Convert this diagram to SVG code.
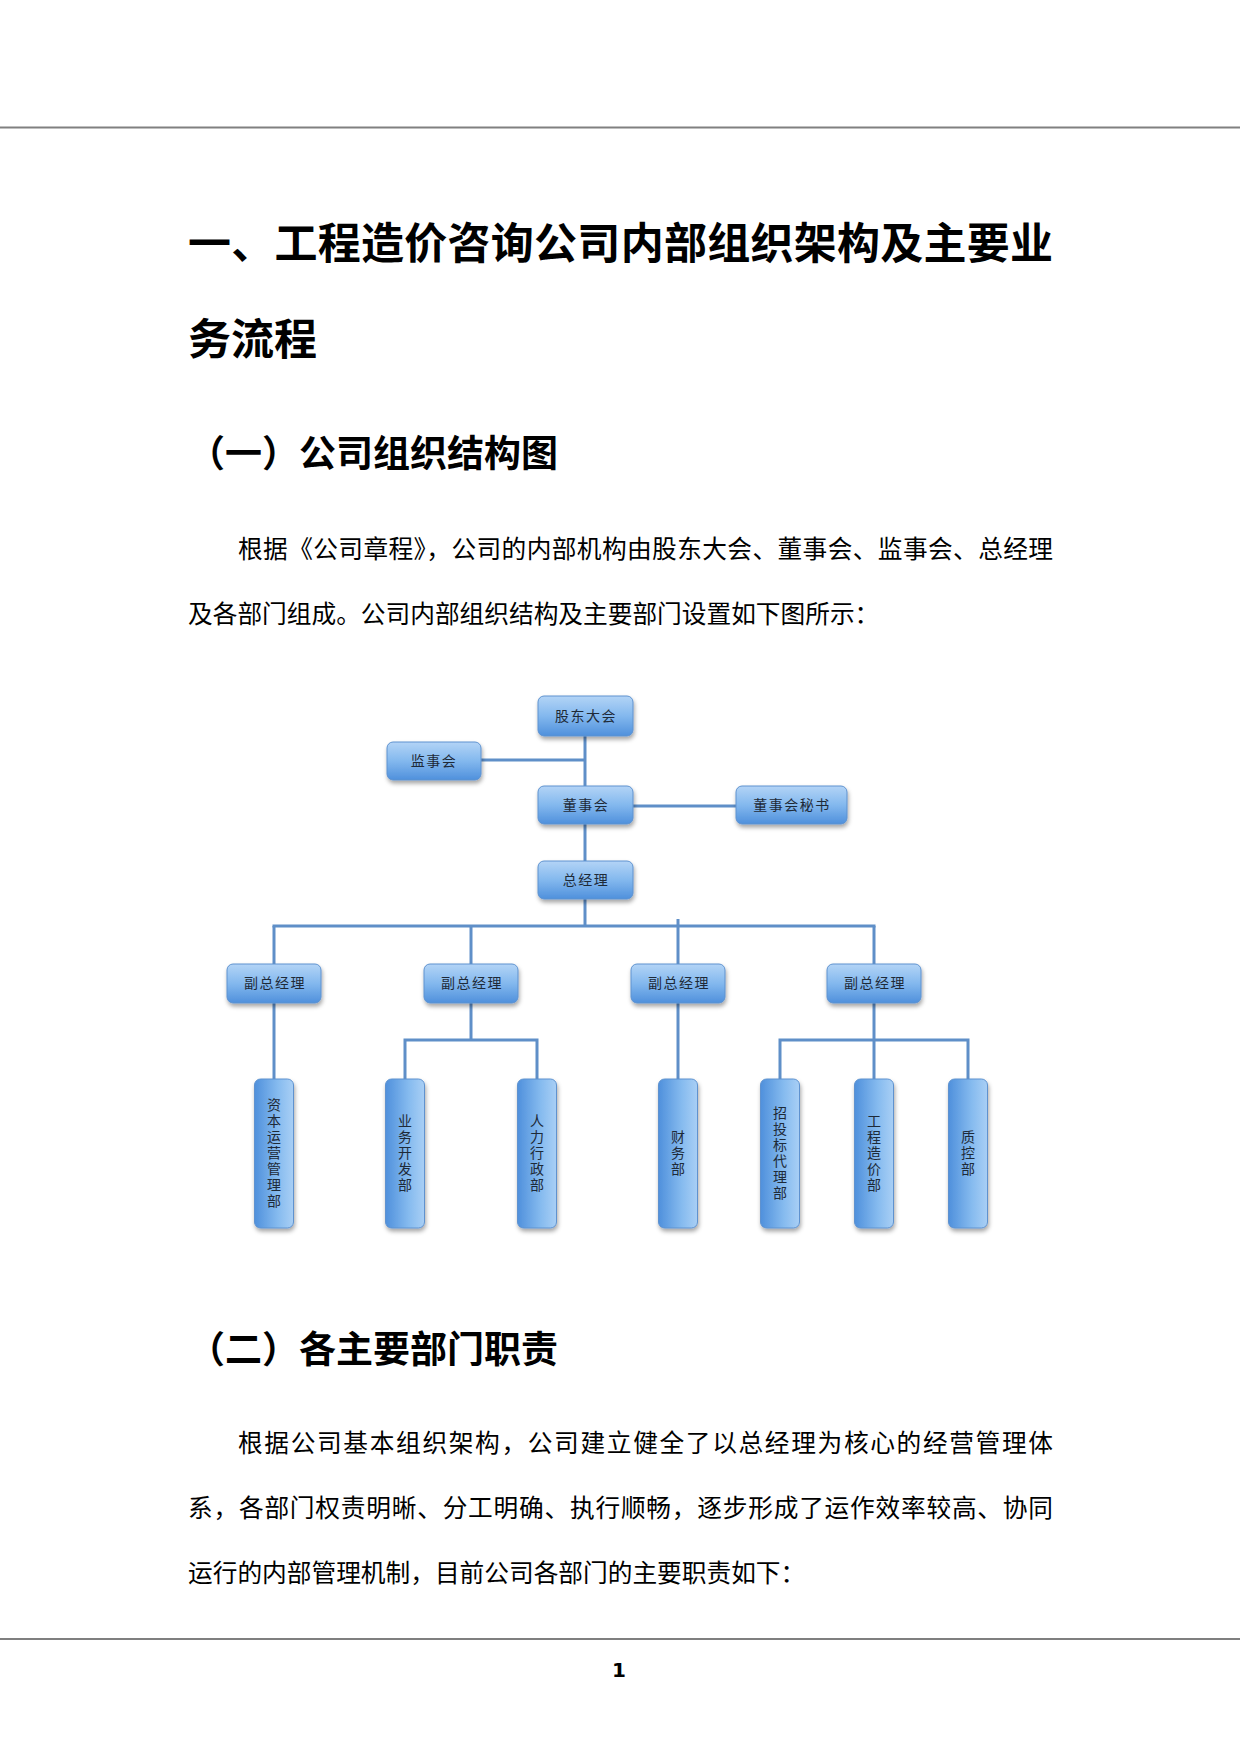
<svg xmlns="http://www.w3.org/2000/svg" width="1240" height="1753" viewBox="0 0 1240 1753">
  <defs>
    <linearGradient id="gh" x1="0" y1="0" x2="0" y2="1">
      <stop offset="0" stop-color="#b3d4f6"/>
      <stop offset="0.5" stop-color="#83b8ee"/>
      <stop offset="1" stop-color="#4f90dc"/>
    </linearGradient>
    <linearGradient id="gv" x1="0" y1="0" x2="1" y2="0">
      <stop offset="0" stop-color="#4f90dc"/>
      <stop offset="0.6" stop-color="#86bbef"/>
      <stop offset="1" stop-color="#a9cff5"/>
    </linearGradient>
    <filter id="sh" x="-20%" y="-20%" width="140%" height="150%">
      <feDropShadow dx="1" dy="3" stdDeviation="2" flood-color="#000" flood-opacity="0.35"/>
    </filter>
    <style>
      .box { fill: url(#gh); stroke: #5e92cf; stroke-width: 1; filter: url(#sh); }
      .vbox { fill: url(#gv); stroke: #5e92cf; stroke-width: 1; filter: url(#sh); }
      .lbl { font-family: "Noto Sans CJK SC", "Liberation Serif", serif; font-size: 14px; fill: #1e2a38; text-anchor: middle; letter-spacing: 1.5px; }
      .vlbl { font-family: "Noto Sans CJK SC", "Liberation Serif", serif; font-size: 14px; fill: #1e2a38; text-anchor: middle; writing-mode: vertical-rl; letter-spacing: 2px; }
      .conn { stroke: #5f8fc8; stroke-width: 3; fill: none; }
      .title { font-family: "Noto Sans CJK SC", sans-serif; font-weight: 700; font-size: 43px; fill: #000; }
      .h2 { font-family: "Noto Sans CJK SC", sans-serif; font-weight: 700; font-size: 37px; fill: #000; }
      .p { font-family: "Noto Sans CJK SC", sans-serif; font-size: 24.7px; fill: #000; }
    </style>
  </defs>
  <rect width="1240" height="1753" fill="#ffffff"/>
  <line x1="0" y1="127.5" x2="1240" y2="127.5" stroke="#808080" stroke-width="2"/>
  <line x1="0" y1="1639" x2="1240" y2="1639" stroke="#000" stroke-width="1.2"/>

  <text class="title" x="188" y="259" textLength="865" lengthAdjust="spacing">一、工程造价咨询公司内部组织架构及主要业</text>
  <text class="title" x="188" y="355">务流程</text>
  <text class="h2" x="188" y="467">（一）公司组织结构图</text>
  <text class="p" x="238" y="558" textLength="815" lengthAdjust="spacing">根据《公司章程》，公司的内部机构由股东大会、董事会、监事会、总经理</text>
  <text class="p" x="188" y="623">及各部门组成。公司内部组织结构及主要部门设置如下图所示：</text>

  <g id="connectors">
    <line class="conn" x1="585" y1="736" x2="585" y2="926"/>
    <line class="conn" x1="481" y1="760" x2="585" y2="760"/>
    <line class="conn" x1="632" y1="806" x2="736" y2="806"/>
    <line class="conn" x1="272.5" y1="926" x2="875.5" y2="926"/>
    <line class="conn" x1="274" y1="926" x2="274" y2="1079"/>
    <line class="conn" x1="471" y1="926" x2="471" y2="1040"/>
    <line class="conn" x1="678" y1="919" x2="678" y2="1079"/>
    <line class="conn" x1="874" y1="926" x2="874" y2="1079"/>
    <polyline class="conn" points="405,1079 405,1040 537,1040 537,1079"/>
    <polyline class="conn" points="780,1079 780,1040 968,1040 968,1079"/>
  </g>

  <g id="n-gudong"><rect class="box" x="538" y="696" width="95" height="40" rx="6"/><text class="lbl" x="586" y="721">股东大会</text></g>
  <g id="n-jianshi"><rect class="box" x="387" y="742" width="94" height="38" rx="6"/><text class="lbl" x="434" y="766">监事会</text></g>
  <g id="n-dongshi"><rect class="box" x="538" y="786" width="95" height="38" rx="6"/><text class="lbl" x="586" y="810">董事会</text></g>
  <g id="n-mishu"><rect class="box" x="736" y="786" width="111" height="38" rx="6"/><text class="lbl" x="792" y="810">董事会秘书</text></g>
  <g id="n-zongjingli"><rect class="box" x="538" y="861" width="95" height="38" rx="6"/><text class="lbl" x="586" y="885">总经理</text></g>

  <g id="n-fu1"><rect class="box" x="227" y="964" width="94" height="39" rx="6"/><text class="lbl" x="275" y="988">副总经理</text></g>
  <g id="n-fu2"><rect class="box" x="424" y="964" width="94" height="39" rx="6"/><text class="lbl" x="472" y="988">副总经理</text></g>
  <g id="n-fu3"><rect class="box" x="631" y="964" width="94" height="39" rx="6"/><text class="lbl" x="679" y="988">副总经理</text></g>
  <g id="n-fu4"><rect class="box" x="827" y="964" width="94" height="39" rx="6"/><text class="lbl" x="875" y="988">副总经理</text></g>

  <g id="n-ziben"><rect class="vbox" x="254.5" y="1079" width="39" height="149" rx="6"/><text class="vlbl" x="274" y="1154">资本运营管理部</text></g>
  <g id="n-yewu"><rect class="vbox" x="385.5" y="1079" width="39" height="149" rx="6"/><text class="vlbl" x="405" y="1154">业务开发部</text></g>
  <g id="n-renli"><rect class="vbox" x="517.5" y="1079" width="39" height="149" rx="6"/><text class="vlbl" x="537" y="1154">人力行政部</text></g>
  <g id="n-caiwu"><rect class="vbox" x="658.5" y="1079" width="39" height="149" rx="6"/><text class="vlbl" x="678" y="1154">财务部</text></g>
  <g id="n-zhaotou"><rect class="vbox" x="760.5" y="1079" width="39" height="149" rx="6"/><text class="vlbl" x="780" y="1154">招投标代理部</text></g>
  <g id="n-zaojia"><rect class="vbox" x="854.5" y="1079" width="39" height="149" rx="6"/><text class="vlbl" x="874" y="1154">工程造价部</text></g>
  <g id="n-zhikong"><rect class="vbox" x="948.5" y="1079" width="39" height="149" rx="6"/><text class="vlbl" x="968" y="1154">质控部</text></g>

  <text class="h2" x="188" y="1363">（二）各主要部门职责</text>
  <text class="p" x="238" y="1452" textLength="815" lengthAdjust="spacing">根据公司基本组织架构，公司建立健全了以总经理为核心的经营管理体</text>
  <text class="p" x="188" y="1517" textLength="865" lengthAdjust="spacing">系，各部门权责明晰、分工明确、执行顺畅，逐步形成了运作效率较高、协同</text>
  <text class="p" x="188" y="1582">运行的内部管理机制，目前公司各部门的主要职责如下：</text>

  <text x="619" y="1677" font-family="DejaVu Sans, sans-serif" font-weight="700" font-size="20" text-anchor="middle" fill="#000">1</text>
</svg>
